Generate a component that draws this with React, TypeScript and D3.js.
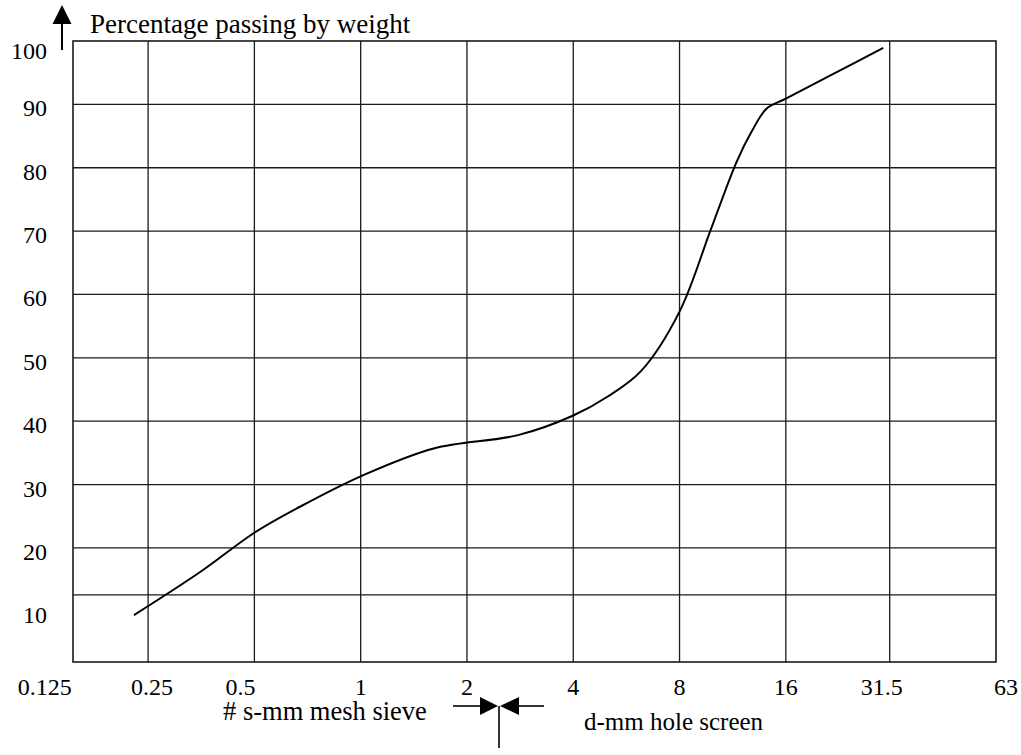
import React, { useEffect, useRef } from 'react';
import * as d3 from 'd3';

// sieve / screen sizes along the bottom (mm)
const sizeTicks = [0.125, 0.25, 0.5, 1, 2, 4, 8, 16, 31.5, 63];
const sizeLabels = ['0.125', '0.25', '0.5', '1', '2', '4', '8', '16', '31.5', '63'];

// percentage passing labels + the horizontal rules actually drawn
const percentTicks = [10, 20, 30, 40, 50, 60, 70, 80, 90, 100];
const gridPercents = [12.6, 20, 30, 40, 50, 60, 70, 80, 90];

// grading curve
const curveSizes = [0.228, 0.351, 0.5, 0.673, 1, 1.61, 2.79, 4, 5.01, 6.22, 8, 9.83, 11.6, 12.8, 14.1, 16, 21.6, 30.2];
const curvePassing = [9.4, 16.2, 22.4, 26.5, 31.3, 35.7, 37.8, 40.9, 43.9, 47.9, 57.3, 70.4, 80.9, 85.7, 89.3, 90.9, 94.7, 98.9];

const W = 1021, H = 755;
const FONT = '"Liberation Serif", "Times New Roman", serif';

export default function App() {
  const ref = useRef<SVGSVGElement>(null);

  useEffect(() => {
    const svg = d3.select(ref.current);
    svg.selectAll('*').remove();

    const left = 73, right = 996, top = 41, bottom = 662;

    const x = d3.scaleLog().base(2).domain([0.1532, 63]).range([left, right]);
    const y = d3.scaleLinear().domain([2, 100]).range([bottom, top]);

    const ink = '#1a1a1a';

    // vertical rules
    svg.append('g')
      .selectAll('line')
      .data(sizeTicks.filter(d => d > 0.125 && d < 63))
      .enter().append('line')
      .attr('x1', d => x(d)).attr('x2', d => x(d))
      .attr('y1', top).attr('y2', bottom)
      .attr('stroke', ink).attr('stroke-width', 1.3);

    // horizontal rules
    svg.append('g')
      .selectAll('line')
      .data(gridPercents)
      .enter().append('line')
      .attr('x1', left).attr('x2', right)
      .attr('y1', d => y(d)).attr('y2', d => y(d))
      .attr('stroke', ink).attr('stroke-width', 1.3);

    // frame
    svg.append('rect')
      .attr('x', left).attr('y', top)
      .attr('width', right - left).attr('height', bottom - top)
      .attr('fill', 'none').attr('stroke', ink).attr('stroke-width', 1.6);

    // grading curve
    const pts = curveSizes.map((s, i) => [s, curvePassing[i]] as [number, number]);
    const line = d3.line<[number, number]>()
      .x(d => x(d[0]))
      .y(d => y(d[1]))
      .curve(d3.curveCatmullRom.alpha(0.5));
    svg.append('path')
      .datum(pts)
      .attr('d', line)
      .attr('fill', 'none')
      .attr('stroke', '#000')
      .attr('stroke-width', 2);

    // y labels
    svg.append('g')
      .selectAll('text')
      .data(percentTicks)
      .enter().append('text')
      .attr('x', 47)
      .attr('y', d => y(d) + (d === 100 ? 18 : 12))
      .attr('text-anchor', 'end')
      .attr('font-family', FONT).attr('font-size', 24)
      .text(d => d);

    // x labels
    const nudge: Record<string, number> = { '0.125': 3, '0.25': 4, '0.5': -14, '31.5': -8, '63': 10 };
    svg.append('g')
      .selectAll('text')
      .data(sizeTicks)
      .enter().append('text')
      .attr('x', (d, i) => x(d) + (nudge[sizeLabels[i]] || 0))
      .attr('y', 695)
      .attr('text-anchor', 'middle')
      .attr('font-family', FONT).attr('font-size', 24)
      .text((d, i) => sizeLabels[i]);

    // y axis arrow + title
    svg.append('line')
      .attr('x1', 62).attr('x2', 62).attr('y1', 22).attr('y2', 50)
      .attr('stroke', '#000').attr('stroke-width', 2);
    svg.append('path')
      .attr('d', 'M62,5 L71.5,24 L52.5,24 Z')
      .attr('fill', '#000');
    svg.append('text')
      .attr('x', 90).attr('y', 33)
      .attr('font-family', FONT).attr('font-size', 27)
      .text('Percentage passing by weight');

    // bottom captions with the meeting arrows
    svg.append('text')
      .attr('x', 223).attr('y', 720)
      .attr('font-family', FONT).attr('font-size', 26.5)
      .text('# s-mm mesh sieve');
    svg.append('text')
      .attr('x', 584).attr('y', 730)
      .attr('font-family', FONT).attr('font-size', 25)
      .text('d-mm hole screen');

    const ay = 706;
    const g = svg.append('g').attr('stroke', '#000').attr('stroke-width', 1.6);
    g.append('line').attr('x1', 453).attr('x2', 482).attr('y1', ay).attr('y2', ay);
    g.append('line').attr('x1', 516).attr('x2', 544).attr('y1', ay).attr('y2', ay);
    g.append('line').attr('x1', 499).attr('x2', 499).attr('y1', ay).attr('y2', 748);
    svg.append('path').attr('d', `M480,${ay - 9} L498,${ay} L480,${ay + 9} Z`).attr('fill', '#000');
    svg.append('path').attr('d', `M519,${ay - 9} L500,${ay} L519,${ay + 9} Z`).attr('fill', '#000');
  }, []);

  return (
    <svg
      ref={ref}
      width={W}
      height={H}
      style={{ position: 'absolute', left: 0, top: 0, background: '#fff' }}
    />
  );
}
